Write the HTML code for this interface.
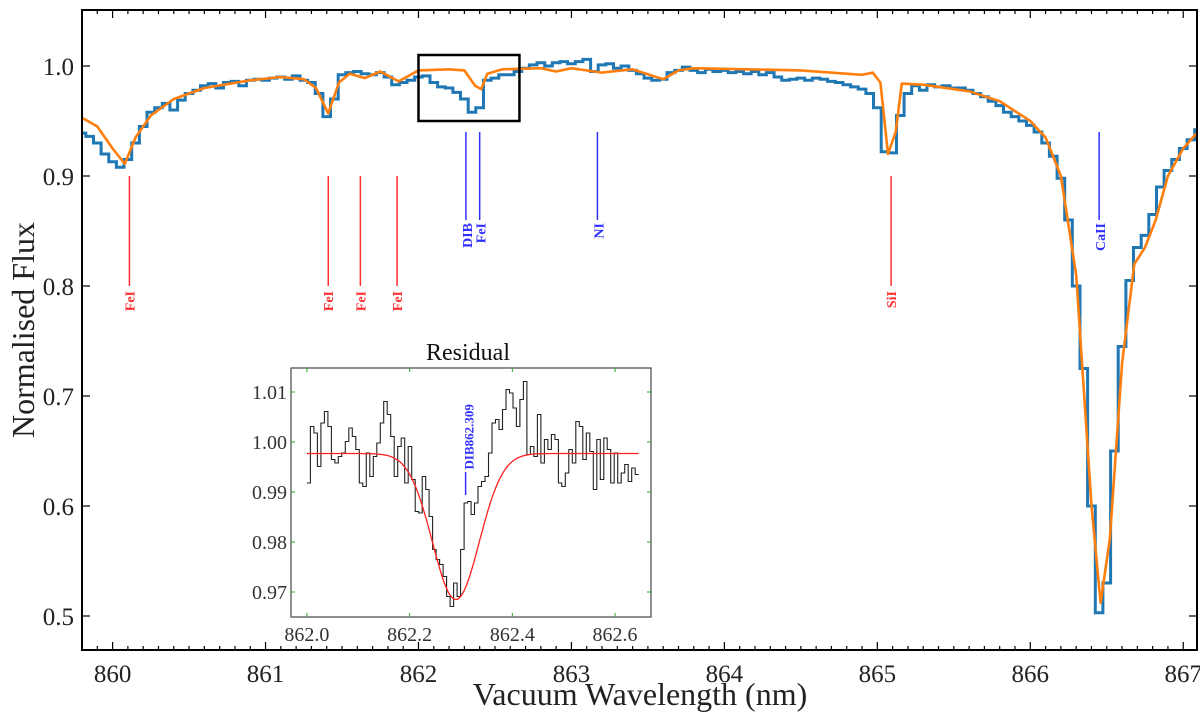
<!DOCTYPE html>
<html><head><meta charset="utf-8"><style>
html,body{margin:0;padding:0;background:#fff;}
svg{display:block;font-family:"Liberation Serif",serif;}
</style></head><body>
<svg id="chart" width="1200" height="714" viewBox="0 0 1200 714"></svg>
<script>
// ---- main data ----
const blueStart = 859.80;
const blueStep = 0.05;
const blueFlux = [.939,.936,.930,.920,.913,.908,.915,.930,.945,.958,.962,.966,.960,.969,.975,.978,.982,.984,.980,.985,.986,.982,.987,.988,.987,.989,.990,.988,.991,.987,.985,.975,.954,.970,.992,.994,.995,.993,.992,.994,.990,.983,.985,.987,.990,.991,.985,.981,.980,.976,.970,.958,.962,.987,.989,.992,.992,.995,.998,1.001,1.003,1.000,1.003,1.004,1.002,1.004,1.006,.995,1.001,1.002,.998,1.000,.996,.993,.989,.987,.988,.994,.996,.999,.996,.994,.997,.995,.996,.994,.995,.993,.995,.992,.994,.990,.987,.988,.989,.987,.989,.988,.986,.985,.983,.981,.979,.975,.962,.922,.921,.955,.975,.982,.978,.983,.981,.982,.980,.980,.978,.975,.972,.968,.964,.958,.954,.950,.946,.940,.930,.918,.898,.860,.800,.725,.600,.503,.530,.650,.745,.805,.835,.846,.865,.890,.905,.915,.925,.933,.942];
const modelWave = [859.8,859.9,860.0,860.08,860.15,860.25,860.4,860.6,860.9,861.1,861.25,861.33,861.41,861.48,861.55,861.65,861.75,861.87,862.0,862.2,862.3,862.37,862.41,862.45,862.55,862.8,862.9,863.0,863.2,863.4,863.6,863.7,863.8,864.5,864.9,864.97,865.02,865.07,865.12,865.16,865.3,865.6,865.8,866.0,866.1,866.2,866.3,866.4,866.46,866.52,866.6,866.68,866.75,866.82,866.9,867.0,867.12];
const modelFlux = [0.953,0.945,0.925,0.911,0.935,0.955,0.970,0.980,0.987,0.990,0.988,0.980,0.957,0.985,0.993,0.989,0.995,0.986,0.996,0.997,0.996,0.982,0.979,0.993,0.997,0.998,0.995,0.998,0.994,0.997,0.988,0.996,0.998,0.996,0.992,0.994,0.985,0.920,0.940,0.984,0.983,0.977,0.968,0.950,0.935,0.900,0.810,0.600,0.512,0.570,0.730,0.820,0.835,0.860,0.900,0.925,0.944];
const xTicks = [860,861,862,863,864,865,866,867];
const yTicks = [0.5,0.6,0.7,0.8,0.9,1.0];
const redLineWaves = [860.11,861.41,861.62,861.86,865.09];
const redLineLabels = ["FeI","FeI","FeI","FeI","SiI"];
const blueLineWaves = [862.31,862.40,863.17,866.45];
const blueLineLabels = ["DIB","FeI","NI","CaII"];
// ---- inset data ----
const resStart = 862.0;
const resStep = 0.0068;
const resFlux = [.9918,1.0031,1.0018,.9951,1.0038,1.0061,1.0031,.9965,.9958,.9971,.9978,1.0001,1.0028,1.0011,.9985,.9918,.9911,.9978,.9931,.9971,.9998,1.0038,1.0081,1.0055,1.0011,.9931,.9991,1.0008,.9918,.9991,.9925,.9861,.9858,.9931,.9905,.9851,.9785,.9765,.9755,.9731,.9691,.9671,.9718,.9691,.9785,.9878,.9881,.9855,.9878,.9911,.9921,.9931,.9978,1.0038,1.0045,1.0025,1.0065,1.0105,1.0098,1.0068,1.0031,1.0085,1.0121,.9975,.9991,.9971,1.0055,.9958,1.0005,.9985,1.0015,1.0005,.9918,.9911,.9938,.9985,.9958,1.0041,1.0031,.9965,1.0018,.9981,.9905,1.0005,.9925,1.0008,.9985,.9918,.9978,.9918,.9938,.9955,.9921,.9948,.9935];
const fitParams = [0.9977, 0.0292, 862.290, 0.0456]; // continuum, depth, centre, sigma
const insetXTicks = [862.0,862.2,862.4,862.6];
const insetYTicks = [0.97,0.98,0.99,1.00,1.01];
const dibWave = [862.309];

const NS="http://www.w3.org/2000/svg";
const svg=document.getElementById('chart');
function mk(tag,attrs,parent){const e=document.createElementNS(NS,tag);for(const k in attrs)e.setAttribute(k,attrs[k]);(parent||svg).appendChild(e);return e;}

const L=82,R=1197,T=10,B=650;
const X0=859.80,X1=867.09;
const xs=w=>L+(w-X0)/(X1-X0)*(R-L);
const ys=v=>66+(1-v)*1100;

const clip=mk('clipPath',{id:'mainclip'});mk('rect',{x:L,y:T,width:R-L,height:B-T},clip);

let d='';
blueFlux.forEach((v,i)=>{const a=xs(blueStart+(i-0.5)*blueStep),b=xs(blueStart+(i+0.5)*blueStep);d+=(i?'L':'M')+a.toFixed(1)+','+ys(v).toFixed(1)+'L'+b.toFixed(1)+','+ys(v).toFixed(1);});
const obs=mk('path',{d:d,fill:'none',stroke:'#1f77b4','stroke-width':3,'clip-path':'url(#mainclip)'});


d='';
modelWave.forEach((w,i)=>{d+=(i?'L':'M')+xs(w).toFixed(1)+','+ys(modelFlux[i]).toFixed(1);});
const mod=mk('path',{d:d,fill:'none',stroke:'#ff7f0e','stroke-width':2.6,'stroke-linejoin':'round','clip-path':'url(#mainclip)'});



const zb=mk('rect',{x:xs(862.0),y:ys(1.01),width:xs(862.66)-xs(862.0),height:ys(0.95)-ys(1.01),fill:'none',stroke:'#000','stroke-width':2.5});



redLineWaves.forEach((w,i)=>{
  const l=mk('line',{x1:xs(w),x2:xs(w),y1:ys(0.9),y2:ys(0.8),stroke:'#ff3030','stroke-width':1.5});
  
  
  const t=mk('text',{x:0,y:0,transform:`translate(${xs(w)+5},${ys(0.8)+5}) rotate(-90)`,'text-anchor':'end','font-size':14,'font-weight':'bold',fill:'#ff3030'});
  t.textContent=redLineLabels[i];
  
  
});
blueLineWaves.forEach((w,i)=>{
  const l=mk('line',{x1:xs(w),x2:xs(w),y1:ys(0.94),y2:ys(0.86),stroke:'#3030ff','stroke-width':1.5});
  
  
  const t=mk('text',{x:0,y:0,transform:`translate(${xs(w)+6},${ys(0.86)+3}) rotate(-90)`,'text-anchor':'end','font-size':14,'font-weight':'bold',fill:'#3030ff'});
  t.textContent=blueLineLabels[i];
  
  
});

const fr=mk('rect',{x:L,y:T,width:R-L,height:B-T,fill:'none',stroke:'#000','stroke-width':2});


for(let k=Math.ceil(X0*10);k<=Math.floor(X1*10);k++){
  const x=xs(k/10),maj=(k%10===0),len=maj?8:4;
  mk('line',{x1:x,x2:x,y1:B,y2:B-len,stroke:'#000','stroke-width':1.2});
  mk('line',{x1:x,x2:x,y1:T,y2:T+len,stroke:'#000','stroke-width':1.2});
}
xTicks.forEach(v=>{const t=mk('text',{x:xs(v),y:B+32,'text-anchor':'middle','font-size':25,fill:'#222'});t.textContent=v;
  
  });
yTicks.forEach(v=>{const y=ys(v);
  mk('line',{x1:L,x2:L+8,y1:y,y2:y,stroke:'#000','stroke-width':1.2});
  mk('line',{x1:R,x2:R-8,y1:y,y2:y,stroke:'#000','stroke-width':1.2});
  const t=mk('text',{x:L-8,y:y+9,'text-anchor':'end','font-size':25,fill:'#222'});t.textContent=v.toFixed(1);
  
  });
const xt=mk('text',{x:640,y:705,'text-anchor':'middle','font-size':32,fill:'#222'});xt.textContent='Vacuum Wavelength (nm)';


const yt=mk('text',{x:0,y:0,transform:'translate(34,330) rotate(-90)','text-anchor':'middle','font-size':32,fill:'#222'});yt.textContent='Normalised Flux';



// ---- inset ----
const iL=291,iR=651,iT=368,iB=617,iX0=861.969,iX1=862.67,iY0=0.965,iY1=1.0148;
const ix=w=>iL+(w-iX0)/(iX1-iX0)*(iR-iL);
const iy=v=>iB-(v-iY0)/(iY1-iY0)*(iB-iT);
const ibg=mk('rect',{x:iL,y:iT,width:iR-iL,height:iB-iT,fill:'#fff',stroke:'#555','stroke-width':1.3});


d='';
resFlux.forEach((v,i)=>{const a=ix(resStart+i*resStep),b=ix(resStart+(i+1)*resStep);d+=(i?'L':'M')+a.toFixed(1)+','+iy(v).toFixed(1)+'L'+b.toFixed(1)+','+iy(v).toFixed(1);});
const rp=mk('path',{d:d,fill:'none',stroke:'#222','stroke-width':1.1});


d='';
for(let i=0;i<=200;i++){const w=resStart+(resStep*resFlux.length)*i/200;const [c,dep,mu,sg]=fitParams;const v=c-dep*Math.exp(-0.5*((w-mu)/sg)**2);d+=(i?'L':'M')+ix(w).toFixed(1)+','+iy(v).toFixed(1);}
const fp=mk('path',{d:d,fill:'none',stroke:'#ff2020','stroke-width':1.3});


const dl=mk('line',{x1:ix(dibWave[0]),x2:ix(dibWave[0]),y1:472,y2:495,stroke:'#3030ff','stroke-width':1.5});


const dt=mk('text',{x:0,y:0,transform:`translate(${ix(dibWave[0])+8},${iy(0.9945)}) rotate(-90)`,'font-size':13,'font-weight':'bold',fill:'#3030ff'});
dt.textContent='DIB862.309';


insetXTicks.forEach(v=>{const x=ix(v);
  mk('line',{x1:x,x2:x,y1:iB,y2:iB-4,stroke:'#2a2','stroke-width':1});
  mk('line',{x1:x,x2:x,y1:iT,y2:iT+4,stroke:'#2a2','stroke-width':1});
  const t=mk('text',{x:x,y:iB+24,'text-anchor':'middle','font-size':20,fill:'#333'});t.textContent=v.toFixed(1);
  
  });
insetYTicks.forEach(v=>{const y=iy(v);
  mk('line',{x1:iL,x2:iL+4,y1:y,y2:y,stroke:'#2a2','stroke-width':1});
  mk('line',{x1:iR,x2:iR-4,y1:y,y2:y,stroke:'#2a2','stroke-width':1});
  const t=mk('text',{x:iL-4,y:y+7,'text-anchor':'end','font-size':20,fill:'#333'});t.textContent=v.toFixed(2);
  
  });
const it=mk('text',{x:468,y:360,'text-anchor':'middle','font-size':24,fill:'#111'});it.textContent='Residual';


</script>
</body></html>
